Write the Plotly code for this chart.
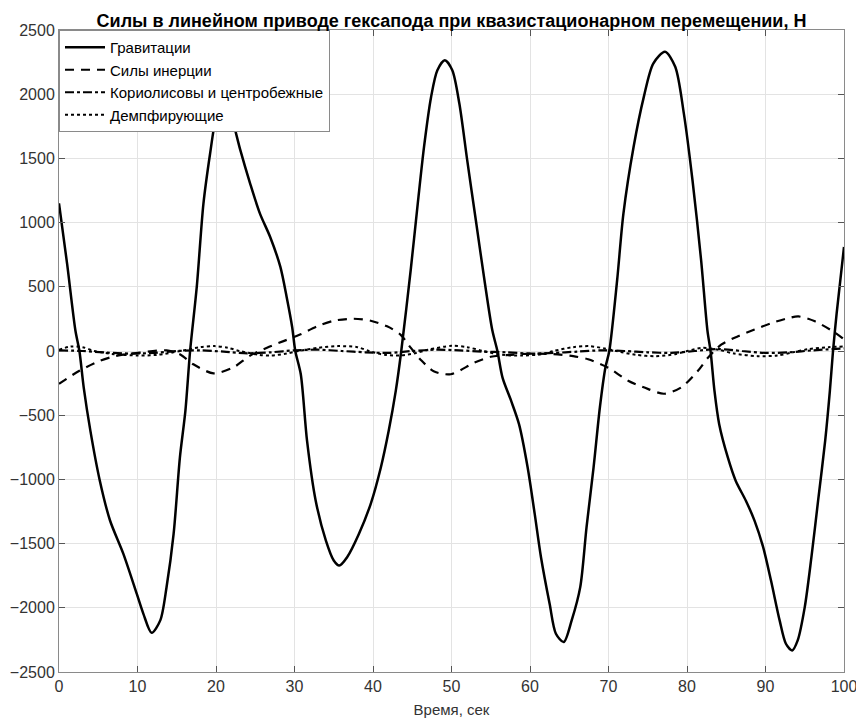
import plotly.graph_objects as go

# Gravity (Гравитации)
t_grav = [0, 1.03, 2.09, 2.6, 3.15, 4.0, 5.2, 6.5, 8.2, 9.9, 10.75, 11.8, 12.9, 13.7, 14.6, 15.4, 16.1, 16.7,
          17.55, 18.4, 19.25, 20.0, 21.0, 22.0, 23.1, 24.35, 25.6, 26.9, 28.2, 29.0, 29.7, 30.1, 30.8, 31.6,
          32.7, 34.0, 35.0, 35.7, 36.7, 38.2, 39.7, 41.0, 42.0, 42.9, 43.6, 44.8, 45.7, 46.5, 47.4, 48.2,
          49.15, 50.1, 51.0, 52.0, 53.1, 54.2, 55.2, 55.85, 56.5, 57.6, 58.6, 59.7, 60.6, 61.4, 62.5, 63.3,
          64.3, 65.3, 66.4, 67.2, 68.1, 68.9, 69.6, 70.1, 71.1, 71.9, 73.2, 74.5, 75.7, 77.2, 78.5, 79.6,
          80.7, 81.8, 82.6, 83.0, 83.5, 84.1, 85.2, 86.2, 87.5, 88.6, 89.7, 90.7, 91.8, 92.6, 93.4, 94.1,
          95.0, 95.85, 96.7, 97.6, 98.2, 98.6, 99.06, 100]
v_grav = [1150, 680, 160, 0, -285, -622, -1010, -1320, -1580, -1890, -2047, -2195, -2098, -1840, -1425, -830, -466, 0,
          499, 1148, 1538, 1823, 2000, 1823, 1564, 1304, 1070, 888, 655, 421, 187, 0, -181, -700,
          -1166, -1477, -1632, -1671, -1606, -1425, -1192, -907, -622, -311, 0, 629, 1148, 1590, 1979, 2187,
          2265, 2187, 1927, 1486, 1018, 551, 161, 0, -207, -389, -570, -907, -1269, -1606, -1969, -2202,
          -2267, -2100, -1839, -1373, -907, -440, -130, 0, 551, 1070, 1590, 1979, 2239, 2330, 2213, 1849,
          1330, 706, 161, 0, -311, -570, -829, -1010, -1166, -1321, -1528, -1788, -2098, -2280, -2332, -2254,
          -1995, -1606, -1166, -700, -311, 0, 291, 810]

# Inertia (Силы инерции)
t_iner = [0, 2.6, 5.2, 7.3, 10.3, 13.7, 15.4, 17.1, 19.7, 22.2, 24.3, 26.5, 28.6, 30.7, 32.9, 35, 37.5, 39.7,
          41.8, 43.5, 44.8, 46.1, 47.8, 49.9, 52.9, 55.0, 57.6, 60, 63, 65.5, 67.4, 69.9, 72.5, 75, 77.1,
          79.3, 81.4, 82.7, 84.4, 86.5, 88.6, 90.8, 92.9, 94.2, 96.3, 98.9, 100]
v_iner = [-256, -154, -77, -38, -13, 5, -26, -103, -174, -128, -38, 26, 77, 128, 192, 236, 251, 236,
          192, 128, 26, -70, -160, -181, -91, -45, -30, -20, -25, -40, -64, -128, -231, -295, -333,
          -282, -154, -51, 51, 115, 167, 218, 256, 269, 231, 141, 90]

# Coriolis and centrifugal (Кориолисовы и центробежные)
t_cor = [0, 3, 6, 9, 12, 15, 18, 21, 24, 27, 30, 33, 36, 39, 42, 45, 48, 51, 54, 57, 60, 63, 66, 69, 72, 75,
         78, 81, 84, 87, 90, 93, 96, 100]
v_cor = [5, 0, -12, -20, -15, 0, 5, -5, -18, -10, 5, 10, 0, -10, -15, 0, 10, 5, -5, -10, -20, -15, -5, 5, 0, -10,
         -15, 0, 15, 0, -15, -10, 5, 20]

# Damping (Демпфирующие)
t_damp = [0, 1.5, 3, 4.5, 7, 10, 12.5, 15.5, 18, 19.8, 21.5, 23, 25.5, 27, 29, 30.5, 33, 35.5, 38, 39.5, 41.5,
          43.5, 45.5, 47, 50, 52, 54, 56.5, 59, 61.5, 63, 65.5, 67.5, 69.5, 71, 73.5, 76, 78.5, 80, 82, 84, 86,
          89, 91.5, 93.5, 95.5, 98, 100]
v_damp = [10, 35, 30, 0, -25, -35, -30, 0, 30, 38, 25, 0, -30, -35, -20, 0, 25, 38, 30, 0, -30,
          -35, -15, 10, 40, 30, 0, -30, -35, -25, 0, 30, 38, 20, 0, -30, -40, -25, 0, 25, 10, -20,
          -40, -35, -10, 15, 30, 35]

names = ["Гравитации", "Силы инерции", "Кориолисовы и центробежные", "Демпфирующие"]
x_ticks = list(range(0, 101, 10))
y_ticks = list(range(-2500, 2501, 500))

fig = go.Figure()
fig.add_trace(go.Scatter(x=t_grav, y=v_grav, name=names[0], mode="lines",
                         line=dict(color="black", width=2.5, shape="spline", smoothing=0.8)))
fig.add_trace(go.Scatter(x=t_iner, y=v_iner, name=names[1], mode="lines",
                         line=dict(color="black", width=2.2, dash="9px,7px", shape="spline", smoothing=0.8)))
fig.add_trace(go.Scatter(x=t_cor, y=v_cor, name=names[2], mode="lines",
                         line=dict(color="black", width=2.2, dash="dashdot", shape="spline", smoothing=0.8)))
fig.add_trace(go.Scatter(x=t_damp, y=v_damp, name=names[3], mode="lines",
                         line=dict(color="black", width=2, dash="dot", shape="spline", smoothing=0.8)))

font_family = "Liberation Sans, Arial, sans-serif"
axis_common = dict(showgrid=True, gridcolor="#e3e3e3", gridwidth=1, showline=True, linecolor="#8a8a8a",
                   linewidth=1, mirror="ticks", ticks="inside", ticklen=6, tickcolor="#555",
                   zeroline=False, automargin=False, ticklabeloverflow="allow",
                   tickfont=dict(family=font_family, size=16, color="#333"))

fig.update_layout(
    width=856, height=724,
    margin=dict(l=59, r=12, t=30, b=52),
    paper_bgcolor="white", plot_bgcolor="white",
    title=dict(text="<b>Силы в линейном приводе гексапода при квазистационарном перемещении, Н</b>",
               x=0.5, xref="paper", xanchor="center", y=0.972, yanchor="middle",
               font=dict(family=font_family, size=18, color="black")),
    xaxis=dict(range=[0, 100], tickvals=x_ticks,
               title=dict(text="Время, сек", font=dict(family=font_family, size=15, color="#333"), standoff=10),
               **axis_common),
    yaxis=dict(range=[-2500, 2500], tickvals=y_ticks, **axis_common),
    legend=dict(x=0, y=1, xanchor="left", yanchor="top", bgcolor="white", bordercolor="#8a8a8a",
                borderwidth=1, font=dict(family=font_family, size=15, color="black"),
                tracegroupgap=0, itemwidth=40),
    showlegend=True,
)

fig.write_html("out.html")
